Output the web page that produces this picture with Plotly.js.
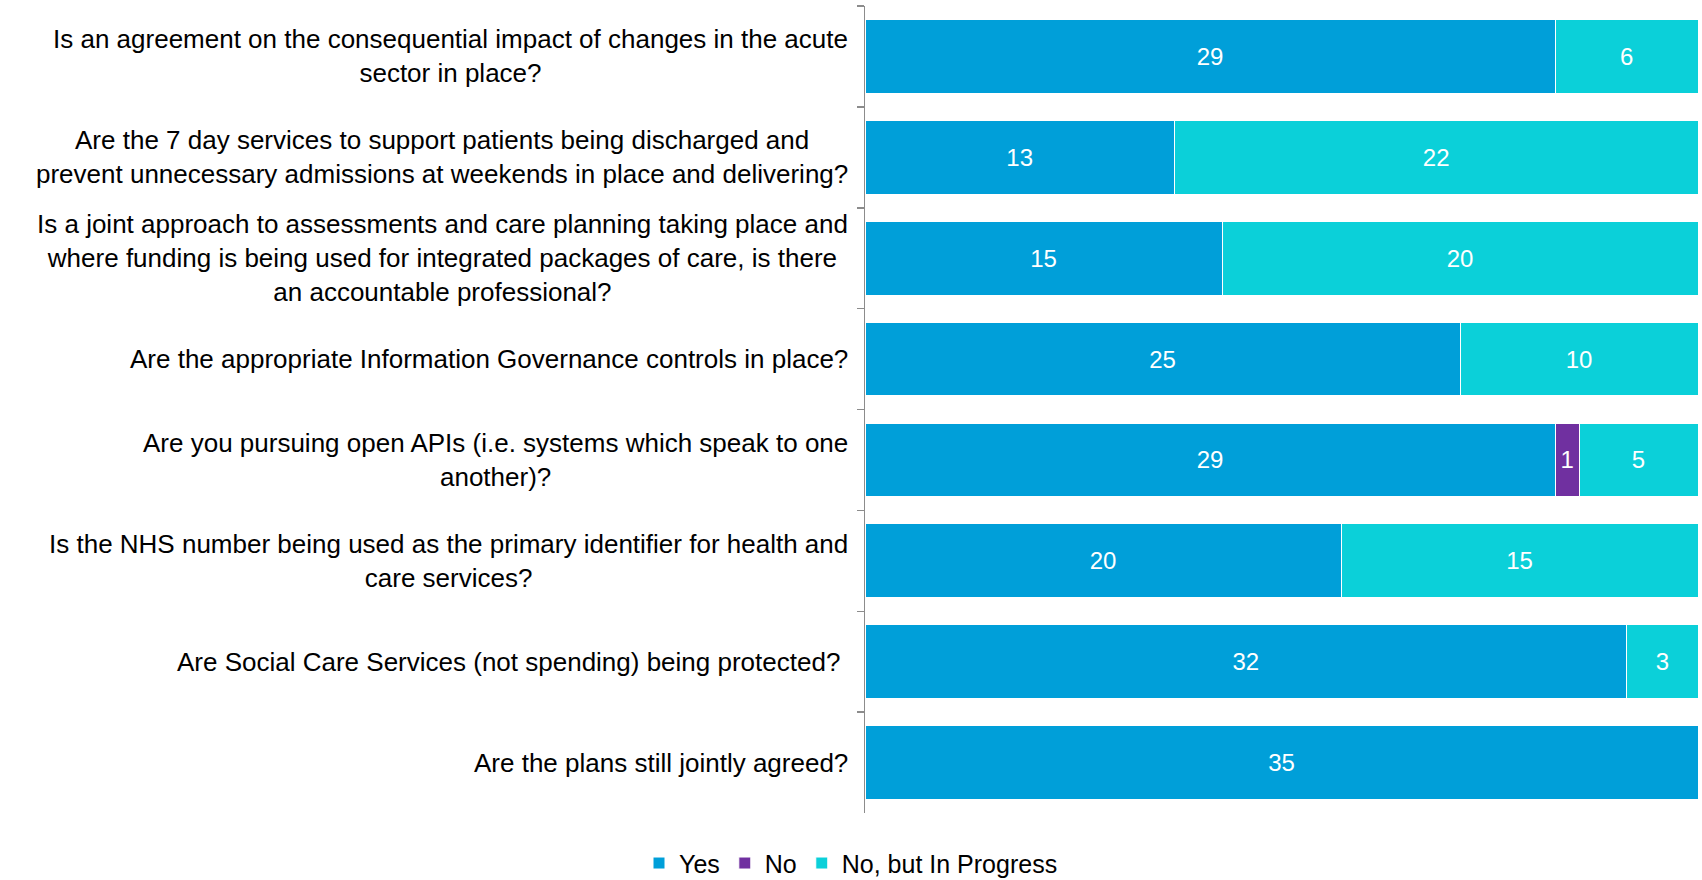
<!DOCTYPE html>
<html>
<head>
<meta charset="utf-8">
<script src="https://cdn.plot.ly/plotly-3.0.1.min.js"></script>
<style>html,body{margin:0;padding:0;background:#fff;}#chart{width:1702px;height:880px;}</style>
</head>
<body>
<div id="chart"></div>
<script>
const categories = [
  "Is an agreement on the consequential impact of changes in the acute<br>sector in place?",
  "Are the 7 day services to support patients being discharged and<br>prevent unnecessary admissions at weekends in place and delivering?",
  "Is a joint approach to assessments and care planning taking place and<br>where funding is being used for integrated packages of care, is there<br>an accountable professional?",
  "Are the appropriate Information Governance controls in place?",
  "Are you pursuing open APIs (i.e. systems which speak to one<br>another)?",
  "Is the NHS number being used as the primary identifier for health and<br>care services?",
  "Are Social Care Services (not spending) being protected? ",
  "Are the plans still jointly agreed?"
];
const yesValues = [29, 13, 15, 25, 29, 20, 32, 35];
const noValues = [null, null, null, null, 1, null, null, null];
const progressValues = [6, 22, 20, 10, 5, 15, 3, null];
const seriesNames = ["Yes", "No", "No, but In Progress"];
const seriesColors = ["#009fd9", "#7030a0", "#0bd0d9"];

const font = "Liberation Sans, Arial, sans-serif";
const series = [yesValues, noValues, progressValues];
const traces = series.map((vals, i) => ({
  type: "bar",
  orientation: "h",
  name: seriesNames[i],
  y: categories,
  x: vals,
  marker: {color: seriesColors[i], line: {color: "#ffffff", width: 1}},
  text: vals.map(v => v == null ? "" : String(v)),
  textposition: "inside",
  insidetextanchor: "middle",
  textfont: {color: "#ffffff", size: 24, family: font},
  hoverinfo: "x+name"
}));

const labelAnnotations = categories.map(c => ({
  xref: "x", yref: "y",
  x: 0, y: c,
  text: c,
  showarrow: false,
  xanchor: "right",
  yanchor: "middle",
  xshift: -15,
  align: "center",
  font: {size: 26, family: font, color: "#000000"}
}));

const layout = {
  width: 1702, height: 880,
  barmode: "stack",
  bargap: 0.27,
  margin: {l: 865, r: 4, t: 6, b: 67},
  paper_bgcolor: "#ffffff",
  plot_bgcolor: "#ffffff",
  font: {family: font, size: 24, color: "#000000"},
  showlegend: true,
  legend: {
    orientation: "h",
    x: 0.5, xref: "container", xanchor: "center",
    y: 0.019, yref: "container", yanchor: "middle",
    font: {size: 25, family: font, color: "#000000"},
    traceorder: "normal",
    itemwidth: 30
  },
  annotations: labelAnnotations,
  xaxis: {
    range: [0, 35],
    visible: false,
    showgrid: false,
    zeroline: false,
    fixedrange: true
  },
  yaxis: {
    type: "category",
    autorange: "reversed",
    showline: true,
    linecolor: "#8c8c8c",
    linewidth: 1.5,
    ticks: "outside",
    tickson: "boundaries",
    ticklen: 7,
    tickcolor: "#8c8c8c",
    tickwidth: 1.5,
    showgrid: false,
    showticklabels: false
  }
};

Plotly.newPlot("chart", traces, layout, {displayModeBar: false, staticPlot: true});
</script>
</body>
</html>
